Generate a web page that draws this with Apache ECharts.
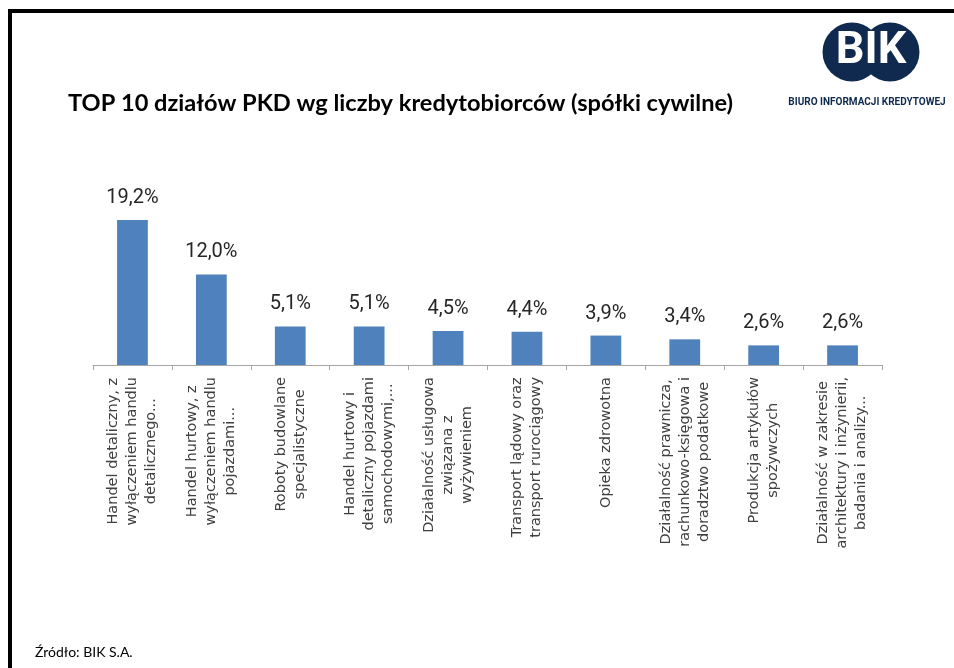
<!DOCTYPE html>
<html>
<head>
<meta charset="utf-8">
<script src="https://cdn.jsdelivr.net/npm/echarts@6/dist/echarts.min.js"></script>
<style>
  html, body { margin: 0; padding: 0; background: #fff; }
  #wrap { position: relative; width: 954px; height: 668px; overflow: hidden; }
  #frame { position: absolute; left: 8px; top: 9px; width: 960px; height: 700px;
           border-top: 4px solid #000; border-left: 4px solid #000; box-sizing: border-box; }
  #chart { position: absolute; left: 0; top: 0; width: 954px; height: 668px; }
</style>
</head>
<body>
<div id="wrap">
  <div id="frame"></div>
  <div id="chart"></div>
</div>
<script>
// dane z wykresu
var categories = [
  'Handel detaliczny, z\nwyłączeniem handlu\ndetalicznego...',
  'Handel hurtowy, z\nwyłączeniem handlu\npojazdami...',
  'Roboty budowlane\nspecjalistyczne',
  'Handel hurtowy i\ndetaliczny pojazdami\nsamochodowymi,...',
  'Działalność usługowa\nzwiązana z\nwyżywieniem',
  'Transport lądowy oraz\ntransport rurociągowy',
  'Opieka zdrowotna',
  'Działalność prawnicza,\nrachunkowo-księgowa i\ndoradztwo podatkowe',
  'Produkcja artykułów\nspożywczych',
  'Działalność w zakresie\narchitektury i inżynierii,\nbadania i analizy...'
];
var shares = [19.2, 12.0, 5.1, 5.1, 4.5, 4.4, 3.9, 3.4, 2.6, 2.6];

var titleText = 'TOP 10 działów PKD wg liczby kredytobiorców (spółki cywilne)';
var sourceText = 'Źródło: BIK S.A.';

var chart = echarts.init(document.getElementById('chart'));

chart.setOption({
  animation: false,
  title: [
    {
      text: titleText,
      left: 63, top: 86,
      textStyle: { fontFamily: 'Lato', fontWeight: 'bold', fontSize: 23.6, color: '#000' }
    },
    {
      text: sourceText,
      left: 30, top: 640,
      textStyle: { fontFamily: 'Lato', fontWeight: 'normal', fontSize: 14, color: '#000' }
    }
  ],
  grid: { left: 93, right: 72, top: 214, bottom: 303, outerBoundsMode: 'none' },
  xAxis: {
    type: 'category',
    data: categories,
    axisLine: { lineStyle: { color: '#a6a6a6', width: 1 } },
    axisTick: { show: true, length: 5, lineStyle: { color: '#a6a6a6' } },
    axisLabel: {
      interval: 0,
      rotate: 90,
      margin: 12,
      formatter: function (v) {
        // kazda linia wysrodkowana
        return v.split('\n').map(function (s) { return '{c|' + s + '}'; }).join('\n');
      },
      rich: {
        c: { align: 'center', fontFamily: 'DejaVu Sans', fontSize: 14.5, lineHeight: 19, color: '#404040' }
      }
    }
  },
  yAxis: {
    type: 'value',
    min: 0, max: 20,
    show: false,
    splitLine: { show: false }
  },
  series: [{
    type: 'bar',
    data: shares,
    barWidth: '39%',
    itemStyle: { color: '#4f81bd' },
    label: {
      show: true,
      position: 'top',
      distance: 12,
      fontFamily: 'Roboto',
      fontSize: 20,
      color: '#262626',
      formatter: function (p) { return p.value.toFixed(1).replace('.', ',') + '%'; }
    }
  }],
  graphic: [
    { type: 'circle', shape: { cx: 852, cy: 52, r: 29.5 }, style: { fill: '#102a4f' } },
    { type: 'circle', shape: { cx: 890, cy: 52, r: 29.5 }, style: { fill: '#102a4f' } },
    { type: 'text', x: 871, y: 52,
      style: { text: 'BIK', fill: '#fff', font: 'bold 45px Roboto', align: 'center', verticalAlign: 'middle' } },
    { type: 'text', x: 867, y: 102,
      style: { text: 'BIURO INFORMACJI KREDYTOWEJ', fill: '#102a4f', font: 'bold 10px Roboto', align: 'center', verticalAlign: 'middle' } }
  ]
});
</script>
</body>
</html>
